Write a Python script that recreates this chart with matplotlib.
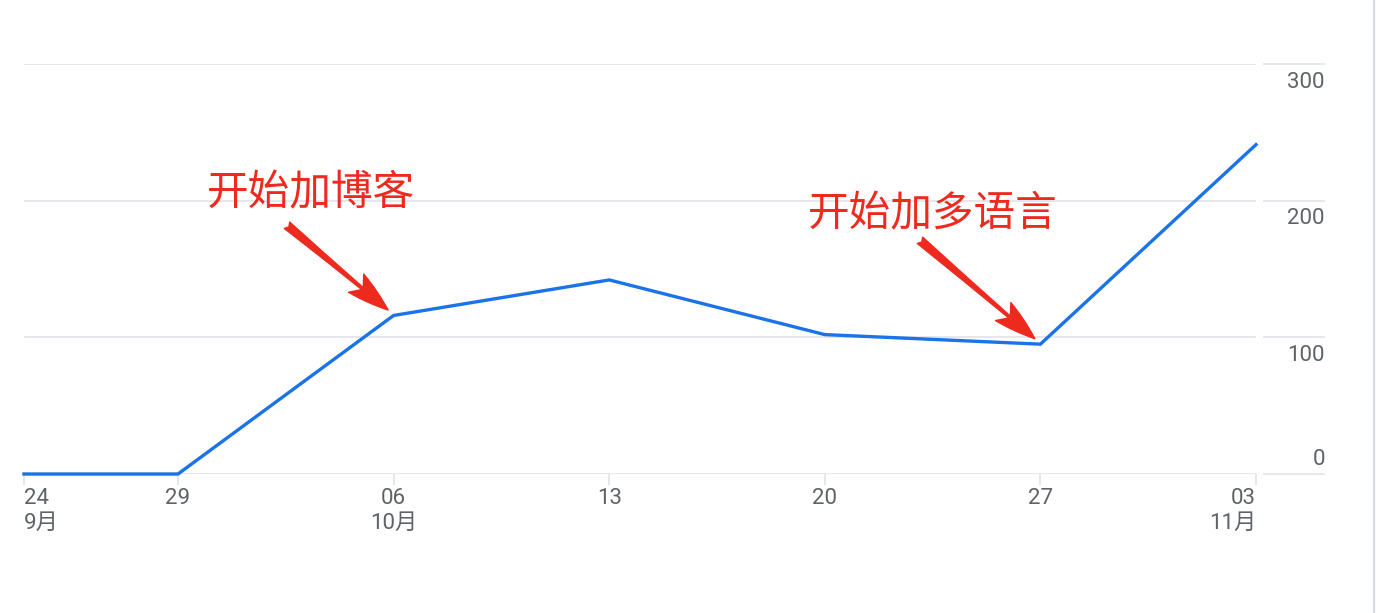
import matplotlib
matplotlib.use("Agg")
import matplotlib.pyplot as plt
from matplotlib.lines import Line2D
import matplotlib.transforms as mtransforms

# ---- data ----
day_offsets = [0, 5, 12, 19, 26, 33, 40]          # days since 24 Sep
day_labels = ["24", "29", "06", "13", "20", "27", "03"]
month_labels = ["9月", "", "10月", "", "", "", "11月"]
values = [0, 0, 116, 142, 102, 95, 241]
y_ticks = [0, 100, 200, 300]
note_texts = ["开始加博客", "开始加多语言"]
note_text_pos = [(5.95, 205), (25.45, 190)]
note_tail = [(8.54, 182), (29.09, 171)]
note_head_idx = [2, 5]

W, H = 1379, 613
fig = plt.figure(figsize=(W / 100, H / 100), dpi=100)
fig.patch.set_facecolor("white")
left, right, top, bottom = 24, 1256, 64, 474
ax = fig.add_axes([left / W, (H - bottom) / H, (right - left) / W, (bottom - top) / H])
ax.set_xlim(0, 40)
ax.set_ylim(0, 300)
for s in ax.spines.values():
    s.set_visible(False)
ax.set_facecolor("white")

grid_col = "#e3e5e8"
lab_col = "#5f6368"
fs = 16
for yv in y_ticks:
    ax.axhline(yv, color=grid_col, lw=1.3, zorder=1)
    ax.plot([(1264 - left) / (right - left), (1324 - left) / (right - left)], [yv, yv],
            transform=mtransforms.blended_transform_factory(ax.transAxes, ax.transData),
            color=grid_col, lw=1.3, clip_on=False)
    xa = (1325 - left) / (right - left)
    if yv == 0:
        ax.annotate(str(yv), xy=(xa, yv), xycoords=("axes fraction", "data"),
                    xytext=(0, 3), textcoords="offset points", ha="right", va="bottom",
                    fontsize=fs, family="Roboto", color=lab_col)
    else:
        ax.annotate(str(yv), xy=(xa, yv), xycoords=("axes fraction", "data"),
                    xytext=(0, -5.5), textcoords="offset points", ha="right", va="top",
                    fontsize=fs, family="Roboto", color=lab_col)

ax.set_yticks([])
ax.set_xticks(day_offsets)
ax.set_xticklabels([])
ax.tick_params(axis="x", length=8, width=1.3, color=grid_col, direction="out")

for i, (d, dl, ml) in enumerate(zip(day_offsets, day_labels, month_labels)):
    ha = "left" if i == 0 else ("right" if i == len(day_offsets) - 1 else "center")
    ax.annotate(dl, xy=(d, 0), xycoords="data", xytext=(0, -10), textcoords="offset points",
                ha=ha, va="top", fontsize=fs, family=["Roboto", "Noto Sans CJK SC"],
                color=lab_col, annotation_clip=False)
    if ml:
        ax.annotate(ml, xy=(d, 0), xycoords="data", xytext=(0, -28), textcoords="offset points",
                    ha=ha, va="top", fontsize=fs, family=["Roboto", "Noto Sans CJK SC"],
                    color=lab_col, annotation_clip=False)

ax.plot(day_offsets, values, color="#1a73e8", lw=2.4, solid_joinstyle="miter", zorder=3,
        clip_on=False)

red = "#ee2a1f"
for txt, (tx, ty), (ax0, ay0), hi in zip(note_texts, note_text_pos, note_tail, note_head_idx):
    ax.text(tx, ty, txt, fontsize=30, color=red, family=["Noto Sans CJK SC", "DejaVu Sans"],
            ha="left", va="center", zorder=4)
    hx, hy = day_offsets[hi], values[hi]
    ax.annotate("", xy=(hx - 0.18, hy + 4), xytext=(ax0, ay0),
                arrowprops=dict(arrowstyle="fancy,head_length=1.5,head_width=0.85,tail_width=0.3",
                                color=red, shrinkA=0, shrinkB=0, mutation_scale=20), zorder=4)

fig.add_artist(Line2D([1374 / W, 1374 / W], [0, 1], transform=fig.transFigure,
                      color="#dadce0", lw=1.6))

fig.savefig("out.png", dpi=100, facecolor="white")
